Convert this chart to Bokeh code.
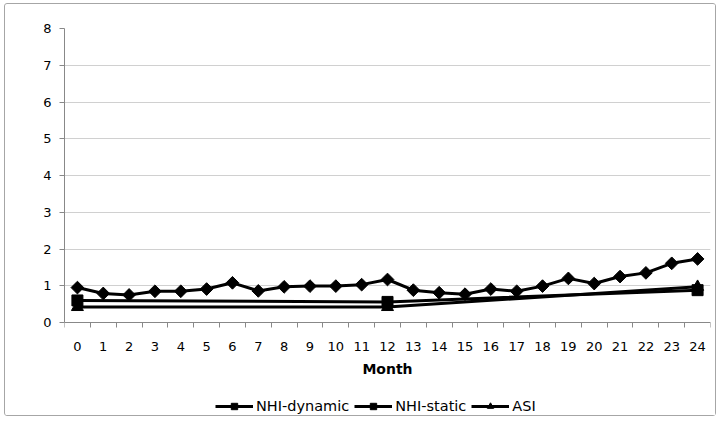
import numpy as np
from bokeh.plotting import figure
from bokeh.models import FixedTicker, Range1d, Legend, LegendItem
from bokeh.embed import file_html
from bokeh.resources import INLINE

months = list(range(25))
nhi_dynamic = [0.95, 0.79, 0.75, 0.85, 0.85, 0.91, 1.08, 0.86, 0.97, 0.99, 0.99, 1.03,
               1.17, 0.88, 0.81, 0.77, 0.91, 0.85, 0.99, 1.20, 1.06, 1.25, 1.35, 1.61, 1.73]
static_months = [0, 12, 24]
nhi_static = [0.60, 0.56, 0.88]
asi = [0.42, 0.42, 0.97]
y_ticks = [0, 1, 2, 3, 4, 5, 6, 7, 8]
y_min, y_max = 0, 8

FONT = "DejaVu Sans"

# frame extends below y=0 to leave room for axis labels and legend (drawn inside frame)
y_low = -95 / 36.75
p = figure(width=712, height=413, output_backend="svg", toolbar_location=None,
           x_range=Range1d(-0.5, 24.5), y_range=Range1d(y_low, y_max),
           min_border_left=59, min_border_right=7, min_border_top=24, min_border_bottom=0)
p.margin = (3, 0, 0, 4)
p.styles = {"border": "1px solid #a6a6a6", "border-radius": "3px"}
p.outline_line_color = None
p.background_fill_color = "white"
p.border_fill_color = "white"

# x axis (category style: labels at centers, ticks between categories)
p.xaxis.fixed_location = y_min
p.xaxis.ticker = FixedTicker(ticks=months, minor_ticks=[m - 0.5 for m in months] + [24.5])
p.xaxis.major_tick_line_color = None
p.xaxis.major_tick_out = 0
p.xaxis.major_tick_in = 0
p.xaxis.minor_tick_line_color = "#888888"
p.xaxis.minor_tick_out = 5
p.xaxis.minor_tick_in = 0
p.xaxis.axis_line_color = "#888888"
p.xaxis.major_label_standoff = 14
p.xaxis.major_label_text_font = FONT
p.xaxis.major_label_text_font_size = "13px"
p.xaxis.major_label_text_color = "black"
p.xaxis.axis_label = "Month"
p.xaxis.axis_label_text_font = FONT
p.xaxis.axis_label_text_font_style = "bold"
p.xaxis.axis_label_text_font_size = "14px"
p.xaxis.axis_label_text_color = "black"
p.xaxis.axis_label_standoff = 7
p.xgrid.grid_line_color = None

p.yaxis.bounds = (y_min, y_max)
p.yaxis.ticker = FixedTicker(ticks=y_ticks)
p.yaxis.minor_tick_line_color = None
p.yaxis.major_tick_line_color = "#888888"
p.yaxis.major_tick_out = 5
p.yaxis.major_tick_in = 0
p.yaxis.axis_line_color = "#888888"
p.yaxis.major_label_standoff = 8
p.yaxis.major_label_text_font = FONT
p.yaxis.major_label_text_font_size = "13px"
p.yaxis.major_label_text_color = "black"
p.ygrid.grid_line_color = "#d0d0d0"

l1 = p.line(months, nhi_dynamic, line_color="black", line_width=3)
s1 = p.scatter(months, nhi_dynamic, marker="square", angle=np.pi / 4, size=9,
               fill_color="black", line_color="black")
l2 = p.line(static_months, nhi_static, line_color="black", line_width=3)
s2 = p.scatter(static_months, nhi_static, marker="square", size=11,
               fill_color="black", line_color="black")
l3 = p.line(static_months, asi, line_color="black", line_width=3)
s3 = p.scatter(static_months, asi, marker="triangle", size=12,
               fill_color="black", line_color="black")

leg = Legend(items=[LegendItem(label="NHI-dynamic", renderers=[l1, s1]),
                    LegendItem(label="NHI-static", renderers=[l2, s2]),
                    LegendItem(label="ASI", renderers=[l3, s3])],
             orientation="horizontal", location=(151, 3))
leg.border_line_color = None
leg.background_fill_alpha = 0
leg.label_text_font = FONT
leg.label_text_font_size = "14.5px"
leg.label_text_color = "black"
leg.glyph_width = 38
leg.glyph_height = 16
leg.label_height = 16
leg.label_standoff = 3
leg.spacing = 5
leg.padding = 2
leg.margin = 0
p.add_layout(leg, "center")

open("out.html", "w").write(file_html(p, INLINE))
